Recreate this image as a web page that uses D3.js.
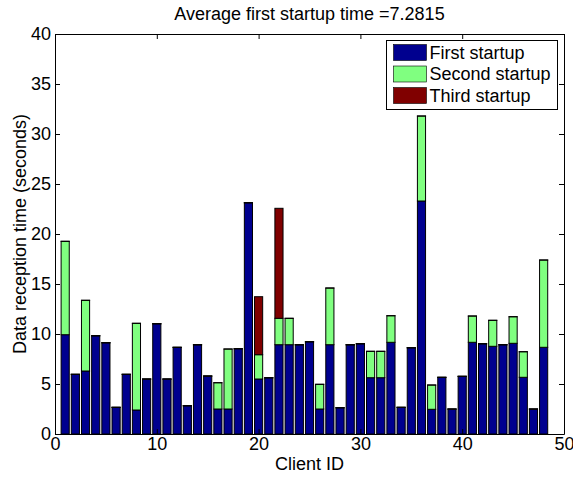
<!DOCTYPE html>
<html>
<head>
<meta charset="utf-8">
<script src="https://cdn.jsdelivr.net/npm/d3@7"></script>
<style>
  body { margin: 0; background: #fff; }
  text { font-family: "Liberation Sans", Arial, sans-serif; }
</style>
</head>
<body>
<div id="chart"></div>
<script>
const clientIds = [1, 2, 3, 4, 5, 6, 7, 8, 9, 10, 11, 12, 13, 14, 15, 16, 17, 18, 19, 20,
  21, 22, 23, 24, 25, 26, 27, 28, 29, 30, 31, 32, 33, 34, 35, 36, 37, 38, 39, 40,
  41, 42, 43, 44, 45, 46, 47, 48];

const firstStartup = [9.93, 5.97, 6.3, 9.83, 9.13, 2.67, 5.97, 2.4, 5.5, 11.03,
  5.5, 8.67, 2.83, 8.93, 5.8, 2.5, 2.5, 8.53, 23.13, 5.5,
  5.63, 8.93, 8.93, 8.93, 9.23, 2.5, 8.93, 2.63, 8.93, 9.03,
  5.63, 5.63, 9.17, 2.67, 8.63, 23.3, 2.47, 5.67, 2.5, 5.77,
  9.17, 9.03, 8.77, 8.93, 9.07, 5.67, 2.5, 8.67];

const secondStartup = [9.34, 0, 7.07, 0, 0, 0, 0, 8.67, 0, 0,
  0, 0, 0, 0, 0, 2.63, 6.0, 0, 0, 2.43,
  0, 2.64, 2.64, 0, 0, 2.47, 5.67, 0, 0, 0,
  2.64, 2.64, 2.66, 0, 0, 8.5, 2.43, 0, 0, 0,
  2.63, 0, 2.6, 0, 2.66, 2.56, 0, 8.73];

const thirdStartup = [0, 0, 0, 0, 0, 0, 0, 0, 0, 0,
  0, 0, 0, 0, 0, 0, 0, 0, 0, 5.8,
  0, 11.0, 0, 0, 0, 0, 0, 0, 0, 0,
  0, 0, 0, 0, 0, 0, 0, 0, 0, 0,
  0, 0, 0, 0, 0, 0, 0, 0];

const seriesNames = ["First startup", "Second startup", "Third startup"];
const seriesColors = ["#00008f", "#80ff80", "#800000"];
const xTicks = [0, 10, 20, 30, 40, 50];
const yTicks = [0, 5, 10, 15, 20, 25, 30, 35, 40];
const avgFirst = 7.2815;

const W = 573, H = 481;
const margin = { top: 34, right: 9, bottom: 47, left: 55 };
const BAR_WIDTH = 0.8;
const FONT = 18;

const svg = d3.select('#chart').append('svg')
  .attr('width', W)
  .attr('height', H);

const x = d3.scaleLinear().domain([0, 50]).range([margin.left, W - margin.right]);
const y = d3.scaleLinear().domain([0, 40]).range([H - margin.bottom, margin.top]);

// build table for d3.stack
const table = clientIds.map((id, i) => ({
  id: id,
  s0: firstStartup[i],
  s1: secondStartup[i],
  s2: thirdStartup[i]
}));
const stacked = d3.stack().keys(['s0', 's1', 's2'])(table);

const bars = svg.append('g');
stacked.forEach((layer, k) => {
  bars.selectAll(null)
    .data(layer)
    .enter()
    .append('rect')
    .attr('x', d => x(d.data.id - BAR_WIDTH / 2))
    .attr('width', x(BAR_WIDTH) - x(0))
    .attr('y', d => y(d[1]))
    // zero segments still leave an edge on top, like matlab does
    .attr('height', d => Math.max(y(d[0]) - y(d[1]), 0.1))
    .attr('fill', seriesColors[k])
    .attr('stroke', '#000')
    .attr('stroke-width', 1);
});

// axes, ticks pointing inward on all four sides
const tick = 5;
const styleAxis = g => {
  g.selectAll('path, line').attr('stroke', '#000');
  g.selectAll('text')
    .attr('fill', '#000')
    .style('font-size', FONT + 'px')
    .style('font-family', '"Liberation Sans", Arial, sans-serif');
};

svg.append('g')
  .attr('transform', `translate(0,${y(0)})`)
  .call(d3.axisBottom(x).tickValues(xTicks).tickSizeInner(-tick).tickSizeOuter(0).tickPadding(3))
  .call(styleAxis);

svg.append('g')
  .attr('transform', `translate(0,${y(40)})`)
  .call(d3.axisTop(x).tickValues(xTicks).tickSizeInner(-tick).tickSizeOuter(0).tickFormat(''))
  .call(styleAxis);

svg.append('g')
  .attr('transform', `translate(${x(0)},0)`)
  .call(d3.axisLeft(y).tickValues(yTicks).tickSizeInner(-tick).tickSizeOuter(0).tickPadding(4))
  .call(styleAxis);

svg.append('g')
  .attr('transform', `translate(${x(50)},0)`)
  .call(d3.axisRight(y).tickValues(yTicks).tickSizeInner(-tick).tickSizeOuter(0).tickFormat(''))
  .call(styleAxis);

// titles
svg.append('text')
  .attr('x', (x(0) + x(50)) / 2)
  .attr('y', 20)
  .attr('text-anchor', 'middle')
  .style('font-size', FONT + 'px')
  .text('Average first startup time =' + avgFirst);

svg.append('text')
  .attr('x', (x(0) + x(50)) / 2)
  .attr('y', 470)
  .attr('text-anchor', 'middle')
  .style('font-size', FONT + 'px')
  .text('Client ID');

svg.append('text')
  .attr('transform', `translate(26,${(y(0) + y(40)) / 2}) rotate(-90)`)
  .attr('text-anchor', 'middle')
  .style('font-size', FONT + 'px')
  .text('Data reception time (seconds)');

// legend
const legend = svg.append('g').attr('transform', 'translate(386.5,40.5)');
legend.append('rect')
  .attr('width', 171)
  .attr('height', 69)
  .attr('fill', '#fff')
  .attr('stroke', '#000');

seriesNames.forEach((name, i) => {
  legend.append('rect')
    .attr('x', 7)
    .attr('y', 4 + i * 21.5)
    .attr('width', 33)
    .attr('height', 16)
    .attr('fill', seriesColors[i])
    .attr('stroke', '#000')
    .attr('stroke-width', 0.6);
  legend.append('text')
    .attr('x', 43)
    .attr('y', 18 + i * 21.5)
    .style('font-size', FONT + 'px')
    .text(name);
});
</script>
</body>
</html>
